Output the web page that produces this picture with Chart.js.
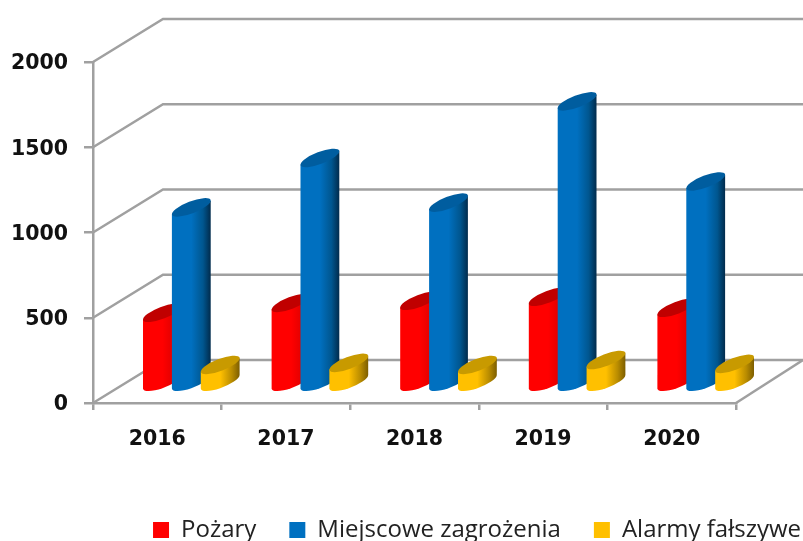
<!DOCTYPE html>
<html>
<head>
<meta charset="utf-8">
<title>Wykres</title>
<script src="https://cdn.jsdelivr.net/npm/chart.js@4"></script>
<style>
  html, body { margin: 0; padding: 0; background: #fff; overflow: hidden; }
  canvas { display: block; }
</style>
</head>
<body>
<canvas id="wykres" width="803" height="541"></canvas>
<script>
const lata = ['2016', '2017', '2018', '2019', '2020'];
const pozary = [412, 470, 482, 506, 441];
const miejscowe = [1030, 1320, 1058, 1652, 1182];
const alarmy = [106, 118, 106, 135, 112];

// front face colours, then gradient shades and the top ellipse colour
const kolory = ['#ff0000', '#0070c0', '#ffc000'];
const cienie = [['#e00000', '#8a0000'], ['#00568f', '#012b4c'], ['#b98c00', '#7d5e00']];
const wierzch = ['#c00000', '#005d9f', '#c89a00'];

const szary = '#a0a0a0';
const glebokoscX = 70, glebokoscY = -43;   // back wall offset
const slupekX = 34, slupekY = -20;         // cylinders stand midway on the floor
const kat = -21 * Math.PI / 180;
const polOs = 20.5 / 19.5, polMala = 6;

function scianyTla(chart) {
  const ctx = chart.ctx, y = chart.scales.y, a = chart.chartArea;
  ctx.save();
  ctx.strokeStyle = szary;
  ctx.lineWidth = 2.5;
  y.ticks.forEach(t => {
    const py = y.getPixelForValue(t.value);
    ctx.beginPath();
    ctx.moveTo(a.left, py);
    ctx.lineTo(a.left + glebokoscX, py + glebokoscY);
    ctx.lineTo(chart.width, py + glebokoscY);
    ctx.stroke();
  });
  ctx.beginPath();
  ctx.moveTo(a.right, a.bottom);
  ctx.lineTo(chart.width, a.bottom + glebokoscY);
  ctx.stroke();
  ctx.restore();
}

function walec(ctx, bar, i) {
  const r = bar.width * 0.68;
  const a = r * polOs, b = polMala;
  const cx = bar.x + slupekX;
  const gora = bar.y + slupekY, dol = bar.base + slupekY;
  const t0 = Math.atan(-(b / a) * Math.tan(kat));
  const ex = a * Math.cos(t0) * Math.cos(kat) - b * Math.sin(t0) * Math.sin(kat);
  const ey = a * Math.cos(t0) * Math.sin(kat) + b * Math.sin(t0) * Math.cos(kat);

  const g = ctx.createLinearGradient(cx - ex, 0, cx + ex, 0);
  g.addColorStop(0, kolory[i]);
  g.addColorStop(0.5, kolory[i]);
  g.addColorStop(0.8, cienie[i][0]);
  g.addColorStop(1, cienie[i][1]);

  ctx.beginPath();
  ctx.ellipse(cx, dol, a, b, kat, t0, t0 + Math.PI);
  ctx.lineTo(cx - ex, gora - ey);
  ctx.lineTo(cx + ex, gora + ey);
  ctx.closePath();
  ctx.fillStyle = g;
  ctx.fill();

  ctx.beginPath();
  ctx.ellipse(cx, gora, a, b, kat, 0, Math.PI * 2);
  ctx.fillStyle = wierzch[i];
  ctx.fill();
}

const wykres3d = {
  id: 'wykres3d',
  afterLayout(chart) {
    // legend sits right against the canvas edge, not under the plot
    chart.legend.left = 0;
    chart.legend.right = 834;
    chart.legend.top = 485;
    chart.legend.bottom = 541;
  },
  beforeDatasetsDraw(chart) {
    scianyTla(chart);
    chart.data.datasets.forEach((ds, i) => {
      chart.getDatasetMeta(i).data.forEach(bar => walec(chart.ctx, bar, i));
    });
    return false;
  }
};

new Chart(document.getElementById('wykres').getContext('2d'), {
  type: 'bar',
  data: {
    labels: lata,
    datasets: [
      { label: 'Pożary', data: pozary, backgroundColor: kolory[0] },
      { label: 'Miejscowe zagrożenia', data: miejscowe, backgroundColor: kolory[1] },
      { label: 'Alarmy fałszywe', data: alarmy, backgroundColor: kolory[2] }
    ]
  },
  options: {
    responsive: false,
    animation: false,
    layout: { padding: { top: 62, right: 67 } },
    categoryPercentage: 0.674,
    barPercentage: 1,
    scales: {
      x: {
        afterFit(s) { s.height = 71; },
        grid: { drawOnChartArea: false, color: szary, lineWidth: 2.5, tickLength: 7 },
        border: { color: szary, width: 2.5 },
        ticks: { color: '#111', padding: 17, maxRotation: 0, font: { family: 'DejaVu Sans', weight: 'bold', size: 20.5 } }
      },
      y: {
        min: 0,
        max: 2000,
        afterFit(s) { s.width = 93; },
        grid: { drawOnChartArea: false, color: szary, lineWidth: 2.5, tickLength: 9 },
        border: { color: szary, width: 2.5 },
        ticks: { stepSize: 500, callback: v => String(v), color: '#111', padding: 16, labelOffset: 2, font: { family: 'DejaVu Sans', weight: 'bold', size: 20.5 } }
      }
    },
    plugins: {
      tooltip: { enabled: false },
      legend: {
        position: 'bottom',
        align: 'end',
        labels: {
          boxWidth: 16,
          boxHeight: 16,
          padding: 33,
          color: '#222',
          font: { family: 'Open Sans', size: 24 }
        }
      }
    }
  },
  plugins: [wykres3d]
});
</script>
</body>
</html>
